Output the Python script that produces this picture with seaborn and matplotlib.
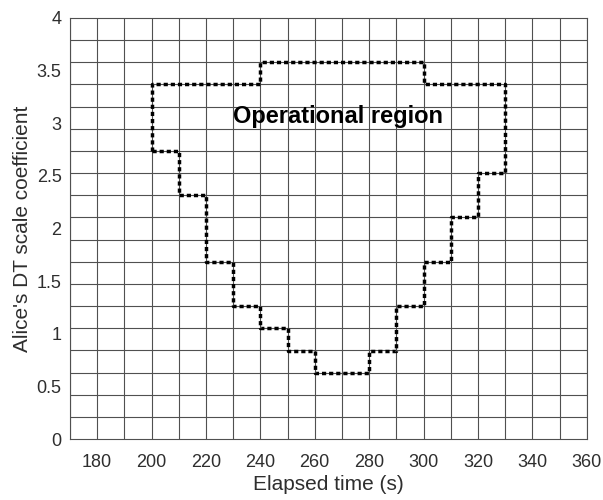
import numpy as np
import pandas as pd
import matplotlib
matplotlib.use("Agg")
import matplotlib.pyplot as plt
import seaborn as sns
from matplotlib.ticker import FixedLocator, MultipleLocator

# ---- data ----
lower_edges = [200, 210, 220, 230, 240, 250, 260, 280, 290, 300, 310, 320, 330]
lower_vals = [2.74, 2.32, 1.68, 1.26, 1.05, 0.84, 0.63, 0.84, 1.26, 1.68, 2.11, 2.53]
upper_edges = [200, 240, 300, 330]
upper_vals = [3.37, 3.58, 3.37]
x_ticks = [180, 200, 220, 240, 260, 280, 300, 320, 340, 360]
y_ticks = [0, 0.5, 1, 1.5, 2, 2.5, 3, 3.5, 4]
y_tick_labels = ["0", "0.5", "1", "1.5", "2", "2.5", "3", "3.5", "4"]
label_text = "Operational region"

# ---- build closed step outline ----
px, py = [], []
for i, v in enumerate(lower_vals):
    px += [lower_edges[i], lower_edges[i + 1]]
    py += [v, v]
for i in reversed(range(len(upper_vals))):
    px += [upper_edges[i + 1], upper_edges[i]]
    py += [upper_vals[i], upper_vals[i]]
px.append(px[0]); py.append(py[0])
df = pd.DataFrame({"x": px, "y": py})

sns.set_theme(style="white")
plt.rcParams['font.family'] = ['Liberation Sans', 'DejaVu Sans']

fig = plt.figure(figsize=(6.03, 5.0), dpi=100)
ax = fig.add_axes([0.116, 0.122, 0.857, 0.842])

sns.lineplot(data=df, x="x", y="y", sort=False, estimator=None, ax=ax,
             color="black", lw=2.5, linestyle=(0, (1.2, 0.85)))

ax.set_xlim(170, 360)
ax.set_ylim(0, 4)
ax.set_xticks(x_ticks)
ax.set_yticks(y_ticks)
ax.set_yticklabels(y_tick_labels)
ax.xaxis.set_minor_locator(MultipleLocator(10))
ax.yaxis.set_minor_locator(FixedLocator([k * 4 / 19 for k in range(20)]))
ax.xaxis.grid(True, which="both", color="#505050", lw=0.8)
ax.yaxis.grid(False, which="major")
ax.yaxis.grid(True, which="minor", color="#505050", lw=0.8)
ax.set_axisbelow(True)
ax.tick_params(which="both", length=0, labelsize=13, colors="#2e2e2e")
ax.tick_params(axis="x", pad=11)
ax.tick_params(axis="y", pad=6)
for s in ax.spines.values():
    s.set_color("#505050")
    s.set_linewidth(0.8)

ax.set_xlabel("Elapsed time (s)", fontsize=15, color="#2e2e2e", labelpad=3)
ax.set_ylabel("Alice's DT scale coefficient", fontsize=15, color="#2e2e2e", labelpad=3)

ax.text(268.5, 3.06, label_text, fontsize=17, fontweight="bold",
        ha="center", va="center", color="black")

fig.savefig("out.png", dpi=100)
